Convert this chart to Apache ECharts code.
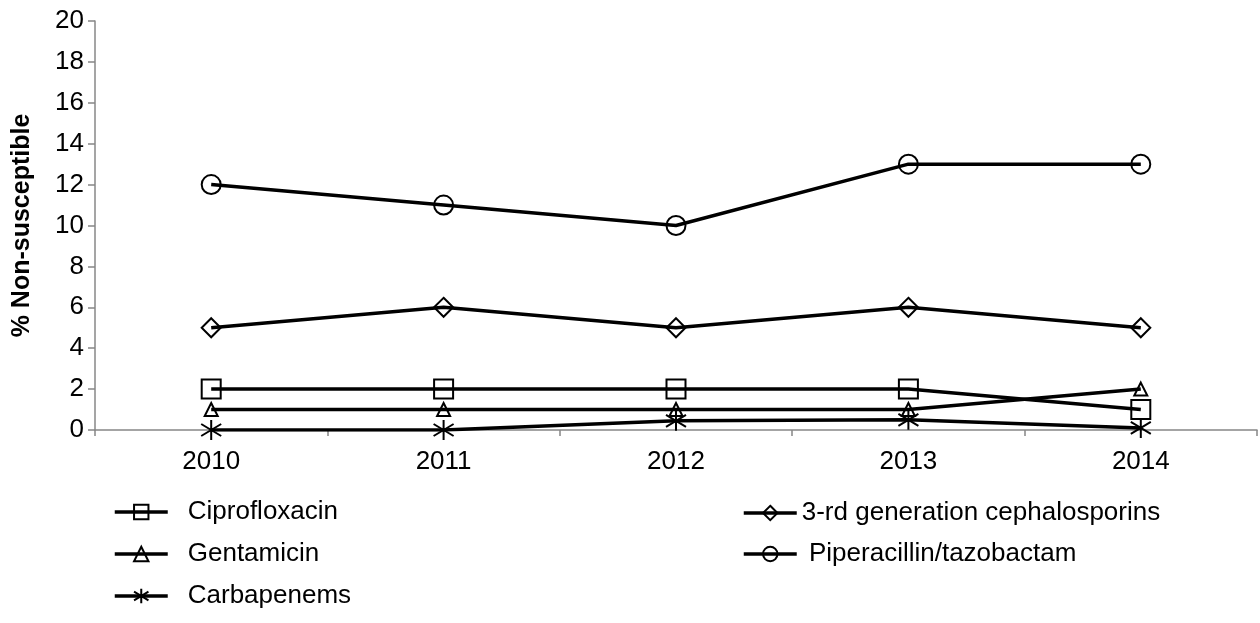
<!DOCTYPE html>
<html>
<head>
<meta charset="utf-8">
<script src="https://cdn.jsdelivr.net/npm/echarts@6/dist/echarts.min.js"></script>
<style>
  html, body { margin: 0; padding: 0; background: #fff; }
  #chart { width: 1260px; height: 623px; }
</style>
</head>
<body>
<div id="chart"></div>
<script>
// data
const years = ["2010", "2011", "2012", "2013", "2014"];
const ciprofloxacin = [2, 2, 2, 2, 1];
const cephalosporins = [5, 6, 5, 6, 5];
const gentamicin = [1, 1, 1, 1, 2];
const piperacillin = [12, 11, 10, 13, 13];
const carbapenems = [0, 0, 0.45, 0.5, 0.1];

const FONT = "Liberation Sans, Arial, sans-serif";
const ASTERISK = "path://M10,0 L10,20 M1,4 L19,16 M1,16 L19,4";

function makeSeries(name, data, symbol, size) {
  return {
    name: name,
    type: "line",
    data: data,
    symbol: symbol,
    symbolSize: size,
    showSymbol: true,
    lineStyle: { color: "#000", width: 3.5 },
    itemStyle: { color: "rgba(0,0,0,0)", borderColor: "#000", borderWidth: 2 },
    emphasis: { disabled: true },
    animation: false,
  };
}

function legendItem(name, left, top, pad) {
  return {
    data: [name],
    left: left,
    top: top,
    itemWidth: 53,
    itemHeight: 18,
    padding: 0,
    selectedMode: false,
    lineStyle: { width: 3.5, color: "#000" },
    textStyle: { fontFamily: FONT, fontSize: 26, color: "#000", padding: [0, 0, 0, pad] },
  };
}

const chart = echarts.init(document.getElementById("chart"));
chart.setOption({
  backgroundColor: "#fff",
  animation: false,
  grid: { left: 95, right: 3, top: 21, bottom: 193, outerBoundsMode: "none" },
  legend: [
    legendItem("Ciprofloxacin", 113, 499, 15),
    legendItem("Gentamicin", 113, 541, 15),
    legendItem("Carbapenems", 113, 583, 15),
    legendItem("3-rd generation cephalosporins", 742, 500, 0),
    legendItem(" Piperacillin/tazobactam", 742, 541, 0),
  ],
  xAxis: {
    type: "category",
    data: years,
    boundaryGap: true,
    axisLine: { lineStyle: { color: "#878787", width: 1.5 } },
    axisTick: { show: true, length: 6, lineStyle: { color: "#878787", width: 1.5 } },
    axisLabel: { fontFamily: FONT, fontSize: 26, color: "#000", margin: 19 },
  },
  yAxis: {
    type: "value",
    min: 0,
    max: 20,
    interval: 2,
    name: "% Non-susceptible",
    nameLocation: "middle",
    nameGap: 60,
    nameTextStyle: { fontFamily: FONT, fontSize: 25, fontWeight: "bold", color: "#000" },
    splitLine: { show: false },
    axisLine: { show: true, lineStyle: { color: "#878787", width: 1.5 } },
    axisTick: { show: true, length: 7, lineStyle: { color: "#878787", width: 1.5 } },
    axisLabel: { fontFamily: FONT, fontSize: 26, color: "#000", margin: 11 },
  },
  series: [
    makeSeries("Ciprofloxacin", ciprofloxacin, "rect", 19),
    makeSeries("3-rd generation cephalosporins", cephalosporins, "diamond", 19),
    makeSeries("Gentamicin", gentamicin, "triangle", 13),
    makeSeries(" Piperacillin/tazobactam", piperacillin, "circle", 19),
    makeSeries("Carbapenems", carbapenems, ASTERISK, 20),
  ],
});
</script>
</body>
</html>
